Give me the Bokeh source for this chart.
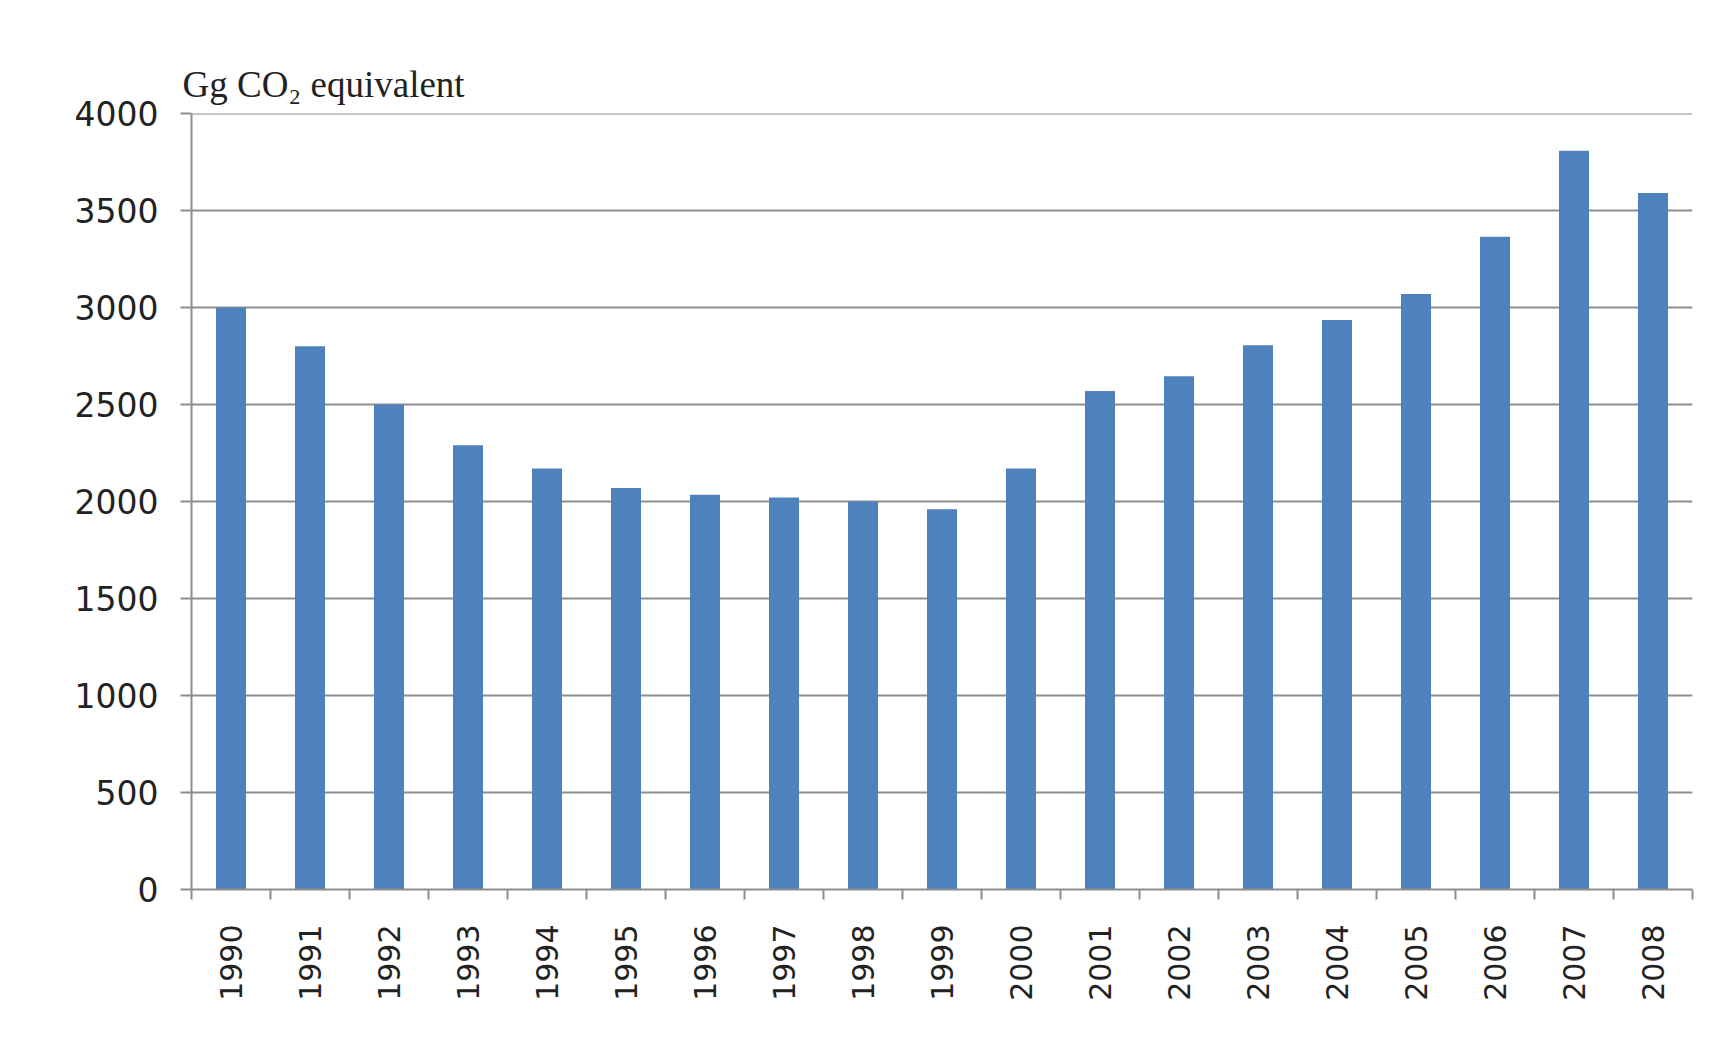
from bokeh.plotting import figure
from bokeh.models import Range1d, FixedTicker, Title, Span
from bokeh.embed import file_html
from bokeh.resources import INLINE
import numpy as np

years = ["1990", "1991", "1992", "1993", "1994", "1995", "1996", "1997", "1998", "1999",
         "2000", "2001", "2002", "2003", "2004", "2005", "2006", "2007", "2008"]
emissions = [3000, 2800, 2500, 2290, 2170, 2070, 2035, 2020, 2000, 1960,
             2170, 2570, 2645, 2805, 2935, 3070, 3365, 3808, 3590]
y_ticks = [0, 500, 1000, 1500, 2000, 2500, 3000, 3500, 4000]
unit_label = "Gg CO\u2082 equivalent"

n = len(years)
centers = [i + 0.5 for i in range(n)]
bounds = list(range(n + 1))

p = figure(width=1714, height=1043, output_backend="svg", toolbar_location=None,
           x_range=Range1d(0, n), y_range=Range1d(0, y_ticks[-1]),
           min_border_left=191, min_border_right=22, min_border_top=113, min_border_bottom=154)
p.background_fill_color = "white"
p.border_fill_color = "white"
p.outline_line_color = None

p.vbar(x=centers, top=emissions, width=0.38, bottom=0, color="#4f81bd", line_color=None)

grid_col = "#8e8e8e"
# y axis
p.yaxis.ticker = FixedTicker(ticks=y_ticks)
p.yaxis.axis_line_color = grid_col
p.yaxis.axis_line_width = 2
p.yaxis.major_tick_line_color = grid_col
p.yaxis.major_tick_line_width = 2
p.yaxis.major_tick_out = 11
p.yaxis.major_tick_in = 0
p.yaxis.minor_tick_line_color = None
p.yaxis.major_label_standoff = 22
p.yaxis.major_label_text_font = "DejaVu Sans"
p.yaxis.major_label_text_font_size = "33px"
p.yaxis.major_label_text_color = "#222222"

# x axis: labels at centres, ticks at category boundaries
p.xaxis.ticker = FixedTicker(ticks=centers, minor_ticks=bounds)
p.xaxis.major_label_overrides = {c: y for c, y in zip(centers, years)}
p.xaxis.axis_line_color = grid_col
p.xaxis.axis_line_width = 2
p.xaxis.major_tick_line_color = None
p.xaxis.major_tick_out = 0
p.xaxis.major_tick_in = 0
p.xaxis.minor_tick_line_color = grid_col
p.xaxis.minor_tick_line_width = 2
p.xaxis.minor_tick_out = 10
p.xaxis.minor_tick_in = 0
p.xaxis.major_label_orientation = np.pi / 2
p.xaxis.major_label_standoff = 25
p.xaxis.major_label_text_font = "DejaVu Sans"
p.xaxis.major_label_text_font_size = "30px"
p.xaxis.major_label_text_color = "#222222"

p.xgrid.grid_line_color = None
p.ygrid.grid_line_color = grid_col
p.ygrid.grid_line_width = 2
p.add_layout(Span(location=y_ticks[-1], dimension="width", line_color=grid_col, line_width=2))

p.title = Title(text=unit_label, align="left", offset=-9, standoff=17,
                text_font="Liberation Serif", text_font_size="37px",
                text_font_style="normal", text_color="#222222")

open("out.html", "w").write(file_html(p, INLINE))
